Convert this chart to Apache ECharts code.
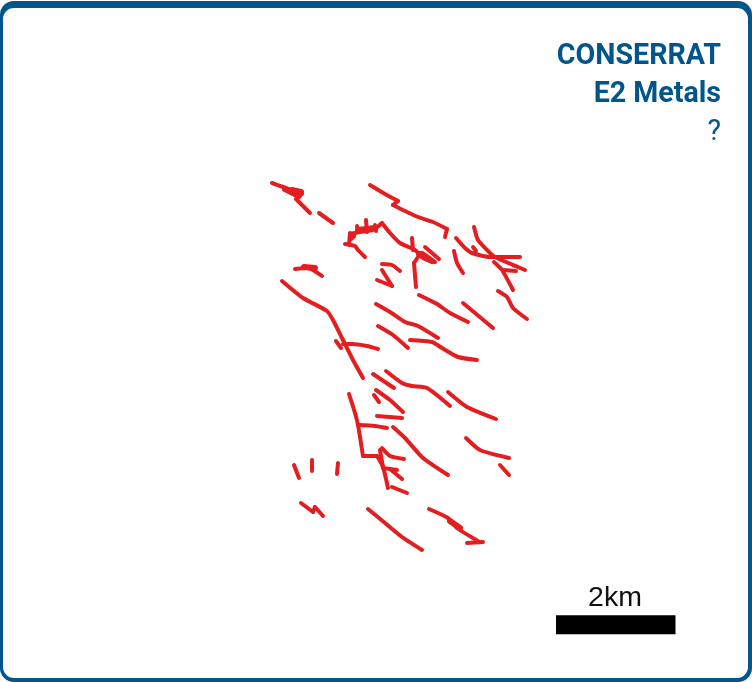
<!DOCTYPE html>
<html><head><meta charset="utf-8">
<style>html,body{margin:0;padding:0;background:#fff}#c{width:752px;height:682px}</style>
<script src="https://cdn.jsdelivr.net/npm/echarts@6/dist/echarts.min.js"></script>
</head><body><div id="c"></div>
<script>
const titleLines = ['CONSERRAT', 'E2 Metals', '?'];
const scaleLabel = '2km';
const scaleBar = [[556,624.7],[675.5,624.7]];
const faults = [
 [[272,183],[283,187],[302,194]],
 [[296,199],[310,213]],
 [[319,213],[333,223]],
 [[350,234],[360,232],[373,230],[382,223]],
 [[357,226],[358,232]],
 [[366,220],[367,232]],
 [[375,225],[376,231]],
 [[350,233],[349,245]],
 [[345,244],[355,246],[358,250],[365,257]],
 [[382,223],[390,233],[400,243],[415,250],[423,258],[435,262]],
 [[425,247],[439,259]],
 [[412,238],[413,250]],
 [[420,254],[414,263]],
 [[414,263],[416,287]],
 [[370,185],[385,194],[398,201]],
 [[398,201],[393,205]],
 [[393,205],[405,211],[418,217],[433,222],[447,229]],
 [[447,229],[445,237]],
 [[456,238],[465,248],[472,253],[490,257],[520,257]],
 [[474,227],[478,240],[490,253],[495,257],[525,270]],
 [[473,247],[476,251]],
 [[454,251],[457,263],[463,273]],
 [[494,262],[502,270],[513,290]],
 [[503,270],[516,271]],
 [[498,291],[507,297],[513,308],[527,319]],
 [[382,264],[392,265],[400,271]],
 [[382,270],[392,286]],
 [[392,286],[377,280]],
 [[295,269],[308,268],[322,276]],
 [[282,281],[303,298],[327,311],[333,320],[342,338],[353,360],[363,378]],
 [[336,341],[341,348]],
 [[343,344],[352,344],[367,346],[378,349]],
 [[376,304],[390,312],[405,322],[418,326],[438,338]],
 [[378,326],[393,335],[408,348]],
 [[410,340],[432,342],[442,348],[458,357],[477,360]],
 [[419,295],[437,304],[450,313],[468,322]],
 [[463,303],[493,328]],
 [[373,374],[394,388]],
 [[386,371],[402,383],[412,386],[427,388],[450,406]],
 [[448,392],[467,407],[496,419]],
 [[349,394],[355,413],[358,425],[363,456]],
 [[363,456],[377,456]],
 [[377,456],[383,467],[388,488]],
 [[358,425],[375,426],[387,428]],
 [[377,416],[402,418]],
 [[376,390],[390,400],[403,412]],
 [[374,395],[379,402]],
 [[393,427],[405,438],[423,458],[448,475]],
 [[382,448],[390,456],[404,459]],
 [[380,450],[383,467]],
 [[383,468],[397,470]],
 [[390,469],[402,479]],
 [[392,487],[407,493]],
 [[466,438],[480,450],[509,458]],
 [[500,465],[509,475]],
 [[294,465],[299,478]],
 [[312,460],[312,471]],
 [[338,463],[337,474]],
 [[301,503],[313,512]],
 [[313,512],[315,507]],
 [[315,507],[323,516]],
 [[368,509],[385,523],[402,537],[422,550]],
 [[429,509],[448,518],[457,528],[478,541]],
 [[467,543],[483,542]]
];
const faultWedges = [
 [[285,189],[299,196]],
 [[292,190],[301,192]],
 [[304,267],[315,268]],
 [[419,254],[432,261]],
 [[422,254],[428,258]],
 [[450,521],[460,528]],
 [[358,230],[375,228]],
 [[351,238],[353,236]]
];
const RED = '#e41e20', BLUE = '#00558c';
const toLine = (pts, w) => ({
  type:'line', data:pts, showSymbol:false, silent:true, animation:false, clip:false,
  smooth:0.2,
  lineStyle:{color:RED, width:w, cap:'round', join:'round'}
});
const series = [
  ...faults.map(f => toLine(f, 4)),
  ...faultWedges.map(f => toLine(f, 6)),
  {type:'line', data:scaleBar, showSymbol:false, silent:true, animation:false,
   lineStyle:{color:'#000', width:19, cap:'butt'}}
];
const chart = echarts.init(document.getElementById('c'), null, {renderer:'canvas'});
const FF = 'Roboto, sans-serif';
chart.setOption({
  animation:false,
  backgroundColor:'#fff',
  grid:{left:0, right:0, top:0, bottom:0},
  xAxis:{type:'value', min:0, max:752, show:false},
  yAxis:{type:'value', min:0, max:682, inverse:true, show:false},
  series,
  graphic:[
    {type:'rect', z:-2, silent:true, shape:{x:0,y:1,width:752,height:681,r:14}, style:{fill:BLUE}},
    {type:'rect', z:-1, silent:true, shape:{x:3,y:8,width:745,height:670,r:11}, style:{fill:'#fff'}},
    {type:'text', z:10, silent:true, style:{x:721,y:71.5,text:titleLines[0],align:'right',verticalAlign:'bottom',fill:BLUE,font:'bold 28.6px '+FF}},
    {type:'text', z:10, silent:true, style:{x:721,y:109,text:titleLines[1],align:'right',verticalAlign:'bottom',fill:BLUE,font:'bold 28.6px '+FF}},
    {type:'text', z:10, silent:true, style:{x:721,y:147,text:titleLines[2],align:'right',verticalAlign:'bottom',fill:BLUE,font:'normal 28.6px '+FF}},
    {type:'text', z:10, silent:true, style:{x:615,y:613,text:scaleLabel,align:'center',verticalAlign:'bottom',fill:'#111',font:'normal 28.5px "Liberation Sans", sans-serif'}}
  ]
});
</script></body></html>
